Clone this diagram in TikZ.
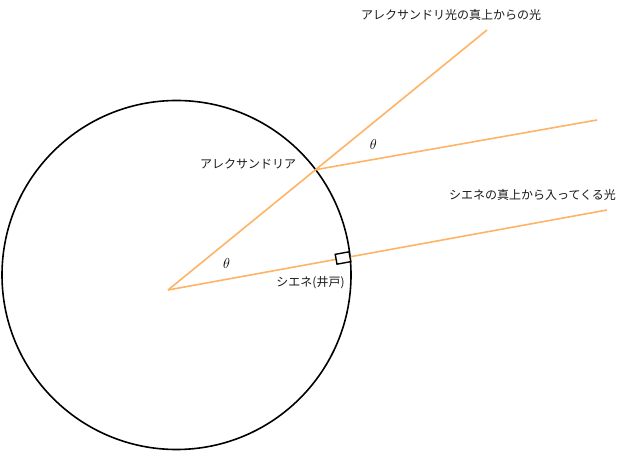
\documentclass[tikz,border=0pt]{standalone}
\usepackage{fontspec}
\newfontfamily\jpfont{Noto Sans CJK JP}
\usetikzlibrary{calc}
\definecolor{ray}{HTML}{FFB366}
\tikzset{
  rayline/.style={draw=ray, line width=1.6pt},
  earth/.style={draw=black, line width=1.6pt},
  jplabel/.style={font=\jpfont\fontsize{12}{14}\selectfont, inner sep=0pt, text=black!90},
  anglelabel/.style={font=\fontsize{14}{16}\selectfont, inner sep=0pt},
  wellbox/.style={draw=black, line width=1.4pt, fill=white, minimum width=14pt, minimum height=10pt, inner sep=0pt, rotate=10.3}
}
\begin{document}
\begin{tikzpicture}[x=1pt,y=1pt]
\useasboundingbox (0,0) rectangle (628,452);
% earth
\node[circle, earth, minimum size=349pt, inner sep=0pt] (earth) at (176.5,177) {};
% points
\coordinate (V) at (168,162);
\coordinate (Aend) at (487,422);
\coordinate (Bend) at (607,242);
\coordinate (P) at (315.6,282.3);
\coordinate (Pend) at (597,332);
% rays
\draw[rayline] (V) -- (Aend);
\draw[rayline] (V) -- (Bend);
\draw[rayline] (P) -- (Pend);
% well box
\node[wellbox] (well) at (343,194.0) {};
% labels
\node[jplabel] (t1) at (451,437) {アレクサンドリ光の真上からの光};
\node[jplabel] (t2) at (248,288) {アレクサンドリア};
\node[jplabel] (t3) at (532.5,257) {シエネの真上から入ってくる光};
\node[jplabel] (t4) at (310.5,169) {シエネ(井戸)};
\node[anglelabel] (th1) at (373.3,307) {$\theta$};
\node[anglelabel] (th2) at (226.7,188) {$\theta$};
\end{tikzpicture}
\end{document}
